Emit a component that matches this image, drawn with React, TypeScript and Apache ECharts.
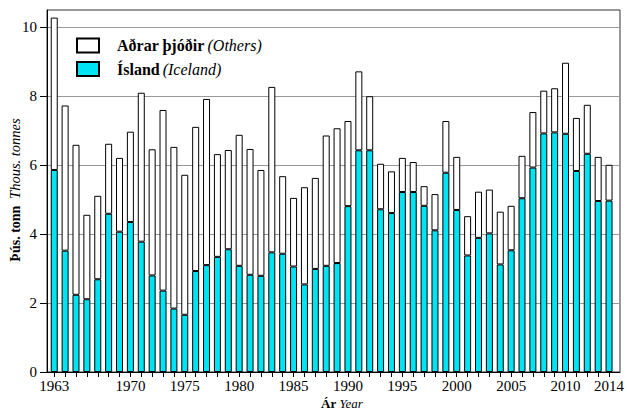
import React, { useEffect, useRef } from "react";
import * as echarts from "echarts";

const years: string[] = [];
for (let y = 1963; y <= 2014; y++) years.push(String(y));

const labeledYears = ["1963", "1970", "1975", "1980", "1985", "1990", "1995", "2000", "2005", "2010", "2014"];

const iceland = [
  5.86, 3.52, 2.24, 2.11, 2.69, 4.59, 4.07, 4.35, 3.78, 2.80,
  2.36, 1.84, 1.66, 2.93, 3.10, 3.34, 3.56, 3.08, 2.82, 2.79,
  3.47, 3.43, 3.06, 2.54, 2.99, 3.08, 3.16, 4.81, 6.43, 6.43,
  4.72, 4.61, 5.22, 5.22, 4.82, 4.11, 5.78, 4.70, 3.38, 3.89,
  4.02, 3.12, 3.53, 5.04, 5.93, 6.92, 6.95, 6.91, 5.83, 6.33,
  4.96, 4.97,
];

const others = [
  4.42, 4.21, 4.35, 2.45, 2.42, 2.03, 2.14, 2.62, 4.32, 3.66,
  5.24, 4.69, 4.06, 4.18, 4.82, 2.98, 2.88, 3.80, 3.65, 3.07,
  4.80, 2.25, 1.99, 2.82, 2.64, 3.78, 3.91, 2.47, 2.29, 1.57,
  1.32, 1.21, 0.99, 0.87, 0.57, 1.05, 1.50, 1.54, 1.14, 1.34,
  1.27, 1.53, 1.29, 1.23, 1.61, 1.24, 1.28, 2.06, 1.54, 1.42,
  1.28, 1.04,
];

const yTicks = [0, 2, 4, 6, 8, 10];

const nameOthers = "Aðrar þjóðir (Others)";
const nameIceland = "Ísland (Iceland)";

const FONT = "Liberation Serif";

export default function App() {
  const ref = useRef<HTMLDivElement>(null);

  useEffect(() => {
    document.body.style.margin = "0";
    const chart = echarts.init(ref.current!, null, { renderer: "svg" });
    const top = 10;
    const bottom = 37;
    chart.setOption({
      animation: false,
      backgroundColor: "#ffffff",
      textStyle: { fontFamily: FONT },
      grid: [
        { left: 47, right: 7, top, bottom, show: true, borderColor: "#333", borderWidth: 1, backgroundColor: "transparent" },
        { left: 48.8, right: 8.8, top, bottom },
      ],
      legend: {
        orient: "vertical",
        left: 76,
        top: 37.5,
        padding: 0,
        itemWidth: 22,
        itemHeight: 14,
        itemGap: 7.5,
        icon: "rect",
        selectedMode: false,
        data: [nameOthers, nameIceland],
        formatter: (name: string) => {
          const i = name.indexOf(" (");
          return `{b|${name.slice(0, i)}} {i|${name.slice(i + 1)}}`;
        },
        textStyle: {
          fontFamily: FONT,
          padding: [0, 0, 0, 13],
          rich: {
            b: { fontFamily: FONT, fontWeight: "bold", fontSize: 16, color: "#000" },
            i: { fontFamily: FONT, fontStyle: "italic", fontSize: 16, color: "#000" },
          },
        },
      },
      xAxis: [
        {
          gridIndex: 0,
          type: "value",
          min: 0,
          max: 1,
          axisLine: { show: true, lineStyle: { color: "#000", width: 1 } },
          axisTick: { show: false },
          axisLabel: { show: false },
          splitLine: { show: false },
        },
        {
          gridIndex: 1,
          type: "category",
          data: years,
          boundaryGap: true,
          axisLine: { show: false },
          axisTick: { show: true, alignWithLabel: true, interval: 0, length: 5, lineStyle: { color: "#000" } },
          axisLabel: {
            interval: (_i: number, v: string) => labeledYears.includes(v),
            color: "#000",
            fontFamily: FONT,
            fontSize: 15,
            margin: 6,
          },
          splitLine: { show: false },
        },
      ],
      yAxis: [
        {
          gridIndex: 0,
          type: "value",
          min: 0,
          max: 10.5,
          interval: 2,
          axisLine: { show: true, lineStyle: { color: "#000" } },
          axisTick: { show: true, length: 7, lineStyle: { color: "#000" }, customValues: yTicks },
          axisLabel: { color: "#000", fontFamily: FONT, fontSize: 15, margin: 10, customValues: yTicks },
          splitLine: { show: true, lineStyle: { color: "#999", width: 1 } },
        },
        {
          gridIndex: 1,
          type: "value",
          min: 0,
          max: 10.5,
          show: false,
          splitLine: { show: false },
        },
      ],
      series: [
        {
          name: nameIceland,
          type: "bar",
          stack: "total",
          xAxisIndex: 1,
          yAxisIndex: 1,
          barWidth: 7,
          data: iceland,
          itemStyle: { color: "#00E3F3", borderColor: "#000", borderWidth: 1 },
        },
        {
          name: nameOthers,
          type: "bar",
          stack: "total",
          xAxisIndex: 1,
          yAxisIndex: 1,
          barWidth: 7,
          data: others,
          itemStyle: { color: "#ffffff", borderColor: "#000", borderWidth: 1 },
        },
      ],
      graphic: [
        {
          type: "text",
          x: 15,
          y: 190,
          rotation: Math.PI / 2,
          style: {
            text: "{b|Þús. tonn}  {i|Thous. tonnes}",
            align: "center",
            verticalAlign: "middle",
            rich: {
              b: { fontFamily: FONT, fontWeight: "bold", fontSize: 14, fill: "#000" },
              i: { fontFamily: FONT, fontStyle: "italic", fontSize: 14.5, fill: "#000" },
            },
          },
        },
        {
          type: "text",
          x: 321,
          y: 403,
          style: {
            text: "{b|Ár} {i|Year}",
            align: "left",
            verticalAlign: "middle",
            rich: {
              b: { fontFamily: FONT, fontWeight: "bold", fontSize: 13, fill: "#000" },
              i: { fontFamily: FONT, fontStyle: "italic", fontSize: 13, fill: "#000" },
            },
          },
        },
      ],
    });
    return () => chart.dispose();
  }, []);

  return <div ref={ref} style={{ width: 627, height: 409 }} />;
}
